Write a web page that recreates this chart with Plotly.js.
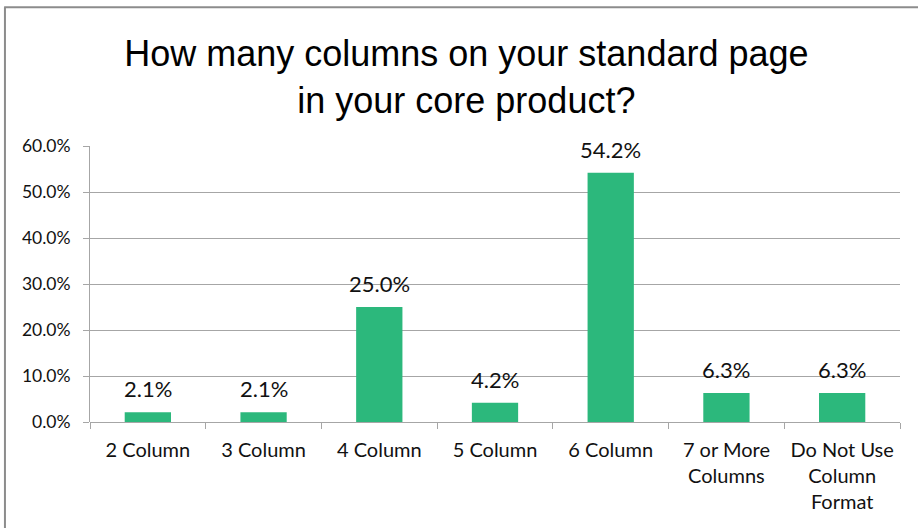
<!DOCTYPE html>
<html>
<head>
<meta charset="utf-8">
<script src="https://cdn.plot.ly/plotly-3.0.1.min.js"></script>
<style>
  html, body { margin: 0; padding: 0; background: #fff; }
  #chart { width: 918px; height: 528px; }
</style>
</head>
<body>
<div id="chart"></div>
<script>
const categories = ["2 Column", "3 Column", "4 Column", "5 Column", "6 Column", "7 or More<br>Columns", "Do Not Use<br>Column<br>Format"];
const shares = [0.021, 0.021, 0.250, 0.042, 0.542, 0.063, 0.063];
const yTicks = [0, 0.1, 0.2, 0.3, 0.4, 0.5, 0.6];
const titleText = "How many columns on your standard page<br>in your core product?";

const bodyFont = "Lato, 'Open Sans', sans-serif";

const trace = {
  type: "bar",
  x: categories,
  y: shares,
  marker: { color: "#2cb87c" },
  hoverinfo: "x+y"
};

const annotations = categories.map((c, i) => ({
  x: c,
  y: shares[i],
  xref: "x",
  yref: "y",
  text: (shares[i] * 100).toFixed(1) + "%",
  showarrow: false,
  yanchor: "bottom",
  yshift: 8,
  font: { family: bodyFont, size: 22, color: "#111" }
}));

const layout = {
  width: 918,
  height: 528,
  margin: { l: 90, r: 18, t: 146, b: 106 },
  paper_bgcolor: "#fff",
  plot_bgcolor: "#fff",
  showlegend: false,
  bargap: 0.6,
  title: {
    text: titleText,
    font: { family: "'Liberation Sans', Arial, sans-serif", size: 36, color: "#000" },
    xref: "container",
    yref: "container",
    x: 0.508,
    xanchor: "center",
    y: 0.875,
    yanchor: "top"
  },
  xaxis: {
    type: "category",
    showline: false,
    showgrid: false,
    ticks: "outside",
    tickson: "boundaries",
    ticklen: 6,
    tickcolor: "#a6a6a6",
    ticklabelstandoff: 14,
    tickfont: { family: bodyFont, size: 20, color: "#111" },
    fixedrange: true
  },
  yaxis: {
    range: [0, 0.6],
    tickvals: yTicks,
    tickformat: ".1%",
    showline: true,
    linecolor: "#a6a6a6",
    linewidth: 1,
    showgrid: true,
    gridcolor: "#a6a6a6",
    gridwidth: 1,
    zeroline: true,
    zerolinecolor: "#a6a6a6",
    zerolinewidth: 1,
    ticks: "outside",
    ticklen: 6,
    tickcolor: "#a6a6a6",
    ticklabelstandoff: 9,
    tickfont: { family: bodyFont, size: 17.5, color: "#111" },
    fixedrange: true
  },
  annotations: annotations,
  shapes: [
    { type: "line", xref: "paper", yref: "paper", x0: -0.105, x1: -0.105, y0: -0.5, y1: 1.503, line: { color: "#8c8c8c", width: 2 } },
    { type: "line", xref: "paper", yref: "paper", x0: -0.106, x1: 1.05, y0: 1.503, y1: 1.503, line: { color: "#8c8c8c", width: 2 } }
  ]
};

Plotly.newPlot("chart", [trace], layout, { displayModeBar: false, staticPlot: true });
</script>
</body>
</html>
